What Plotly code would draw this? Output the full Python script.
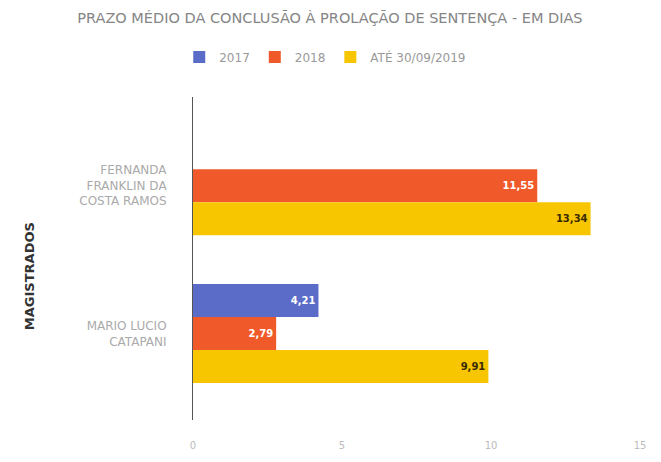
import plotly.graph_objects as go

categories = ["FERNANDA<br>FRANKLIN DA<br>COSTA RAMOS", "MARIO LUCIO<br>CATAPANI"]
series_names = ["2017", "2018", "ATÉ 30/09/2019"]
values_2017 = [None, 4.21]
values_2018 = [11.55, 2.79]
values_2019 = [13.34, 9.91]
tick_vals = [0, 5, 10, 15]
tick_text = ["0", "5", "10", "15"]

colors = ["#5B6CC8", "#F05A2A", "#F7C600"]
text_colors = ["white", "white", "#3a2a00"]

fig = go.Figure()
for name, vals, col, tc in zip(series_names, [values_2017, values_2018, values_2019], colors, text_colors):
    fig.add_trace(go.Bar(
        y=categories, x=vals, name=name, orientation="h",
        marker=dict(color=col, line=dict(width=0)),
        text=[("" if v is None else f"{v:.2f}".replace(".", ",")) for v in vals],
        textposition="inside", insidetextanchor="end",
        textfont=dict(color=tc, size=10, family="DejaVu Sans", weight="bold"),
    ))

fig.update_layout(
    width=653, height=454,
    barmode="group", bargap=0.33, bargroupgap=0,
    plot_bgcolor="white", paper_bgcolor="white",
    margin=dict(l=185, r=12, t=89, b=42),
    title=dict(text="PRAZO MÉDIO DA CONCLUSÃO À PROLAÇÃO DE SENTENÇA - EM DIAS",
               x=0.493, xanchor="center", y=0.978, yanchor="middle",
               font=dict(size=14.5, color="#858585", family="DejaVu Sans")),
    legend=dict(orientation="h", x=0.29, xanchor="center", yref="container", y=0.892, yanchor="middle",
                font=dict(size=12, color="#999999", family="DejaVu Sans"), traceorder="normal"),
    font=dict(family="DejaVu Sans"),
    uniformtext=dict(minsize=8, mode="show"),
    annotations=[dict(text="<b>MAGISTRADOS</b>", xref="paper", yref="paper",
                      x=-0.357, y=0.446, xanchor="center", yanchor="middle",
                      textangle=-90, showarrow=False,
                      font=dict(size=13, color="#333333", family="DejaVu Sans"))],
)
fig.update_xaxes(range=[0, 15.3], tickvals=tick_vals, ticktext=tick_text,
                 showgrid=False, zeroline=False, showline=False,
                 ticklabelstandoff=18, automargin=False,
                 tickfont=dict(size=10, color="#bbbbbb"))
fig.update_yaxes(range=[1.585, -0.6], showgrid=False, zeroline=False,
                 showline=True, linecolor="#555555", linewidth=1,
                 ticks="", ticklabelstandoff=23, automargin=False,
                 tickfont=dict(size=12, color="#aaaaaa", family="DejaVu Sans"))

fig.write_html("out.html")
